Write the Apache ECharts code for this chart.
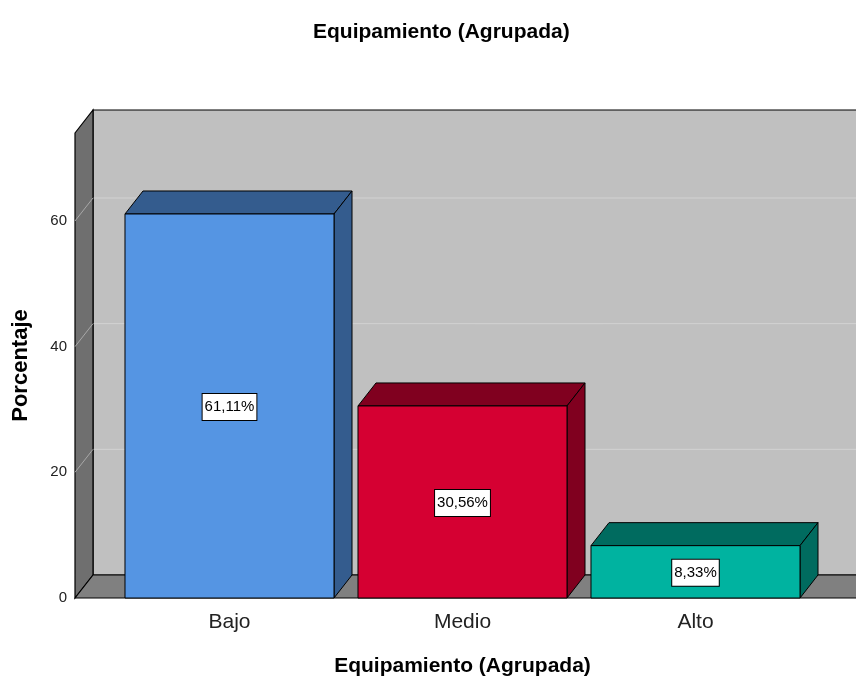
<!DOCTYPE html>
<html><head><meta charset="utf-8">
<script src="https://cdn.jsdelivr.net/npm/echarts@6/dist/echarts.min.js"></script>
<style>html,body{margin:0;padding:0;background:#fff}#c{width:856px;height:682px}</style>
</head><body><div id="c"></div>
<script>
const chartTitle = 'Equipamiento (Agrupada)';
const xAxisTitle = 'Equipamiento (Agrupada)';
const yAxisTitle = 'Porcentaje';
const categories = ['Bajo', 'Medio', 'Alto'];
const percentages = [61.11, 30.56, 8.33];
const valueLabels = ['61,11%', '30,56%', '8,33%'];
const yTicks = [0, 20, 40, 60];
const yMax = 74;

const frontColors = ['#5595e3', '#d50032', '#00b3a0'];
const shadeColors = ['#345c8e', '#80001f', '#006b5f'];
const FONT = '"Liberation Sans", Arial, sans-serif';
const DX = 18, DY = -23;

const chart = echarts.init(document.getElementById('c'), null, {renderer: 'canvas'});

function wallsRender(params, api) {
  const cs = params.coordSys;
  const L = cs.x - 38;
  const R = cs.x + cs.width + 60;
  const top = cs.y, bot = cs.y + cs.height;
  const children = [];
  children.push({type: 'rect', shape: {x: L + DX, y: top + DY, width: R - L, height: bot - top},
    style: {fill: '#c0c0c0', stroke: '#000', lineWidth: 1.2}});
  yTicks.forEach(v => {
    if (v === 0) return;
    const y = api.coord([0, v])[1];
    children.push({type: 'line', shape: {x1: L + DX, y1: y + DY, x2: R + DX, y2: y + DY},
      style: {stroke: '#d2d2d2', lineWidth: 1}});
  });
  children.push({type: 'polygon', shape: {points: [[L, top], [L + DX, top + DY], [L + DX, bot + DY], [L, bot]]},
    style: {fill: '#6f6f6f', stroke: '#000', lineWidth: 1.2}});
  yTicks.forEach(v => {
    if (v === 0) return;
    const y = api.coord([0, v])[1];
    children.push({type: 'line', shape: {x1: L, y1: y, x2: L + DX, y2: y + DY},
      style: {stroke: '#a8a8a8', lineWidth: 1}});
  });
  children.push({type: 'polygon', shape: {points: [[L, bot], [L + DX, bot + DY], [R + DX, bot + DY], [R, bot]]},
    style: {fill: '#808080', stroke: '#000', lineWidth: 1.2}});
  return {type: 'group', children};
}

function barRender(params, api) {
  const idx = params.dataIndex;
  const i = api.value(0), v = api.value(1);
  const c = api.coord([i, v]);
  const base = api.coord([i, 0]);
  const bw = api.size([1, 0])[0] * 0.897;
  const x0 = c[0] - bw / 2, x1 = c[0] + bw / 2, yt = c[1], yb = base[1];
  const shade = shadeColors[idx], front = frontColors[idx];
  return {type: 'group', children: [
    {type: 'polygon', shape: {points: [[x0, yt], [x0 + DX, yt + DY], [x1 + DX, yt + DY], [x1, yt]]},
      style: {fill: shade, stroke: '#000', lineWidth: 1}},
    {type: 'polygon', shape: {points: [[x1, yt], [x1 + DX, yt + DY], [x1 + DX, yb + DY], [x1, yb]]},
      style: {fill: shade, stroke: '#000', lineWidth: 1}},
    {type: 'rect', shape: {x: x0, y: yt, width: bw, height: yb - yt},
      style: {fill: front, stroke: '#000', lineWidth: 1}},
    {type: 'text', x: c[0], y: (yt + yb) / 2 + 1, z2: 10,
      style: {text: valueLabels[idx], fontSize: 15, fontFamily: FONT, fill: '#000',
        align: 'center', verticalAlign: 'middle', backgroundColor: '#fff',
        borderColor: '#000', borderWidth: 1, padding: [6, 2, 5, 2]}}
  ]};
}

chart.setOption({
  animation: false,
  backgroundColor: '#fff',
  title: {text: chartTitle, left: 308, top: 17,
    textStyle: {fontFamily: FONT, fontSize: 21, fontWeight: 'bold', color: '#000'}},
  grid: {left: 113, right: 44, top: 133, bottom: 84, containLabel: false},
  xAxis: {type: 'category', data: categories,
    axisLine: {show: false}, axisTick: {show: false},
    axisLabel: {fontFamily: FONT, fontSize: 21, color: '#222', margin: 14},
    name: xAxisTitle, nameLocation: 'middle', nameGap: 58,
    nameTextStyle: {fontFamily: FONT, fontSize: 21, fontWeight: 'bold', color: '#000'}},
  yAxis: {type: 'value', min: 0, max: yMax, interval: 20, offset: 38,
    axisLine: {show: false}, axisTick: {show: false}, splitLine: {show: false},
    axisLabel: {fontFamily: FONT, fontSize: 15, color: '#222', margin: 8, showMaxLabel: false,
      formatter: v => yTicks.includes(v) ? String(v) : ''},
    name: yAxisTitle, nameLocation: 'middle', nameGap: 43, nameRotate: 90,
    nameTextStyle: {fontFamily: FONT, fontSize: 22, fontWeight: 'bold', color: '#000'}},
  series: [
    {type: 'custom', z: 1, renderItem: wallsRender, data: [[0, 0]], silent: true},
    {type: 'custom', z: 2, renderItem: barRender,
      data: categories.map((c, i) => [i, percentages[i]])}
  ]
});
</script></body></html>
